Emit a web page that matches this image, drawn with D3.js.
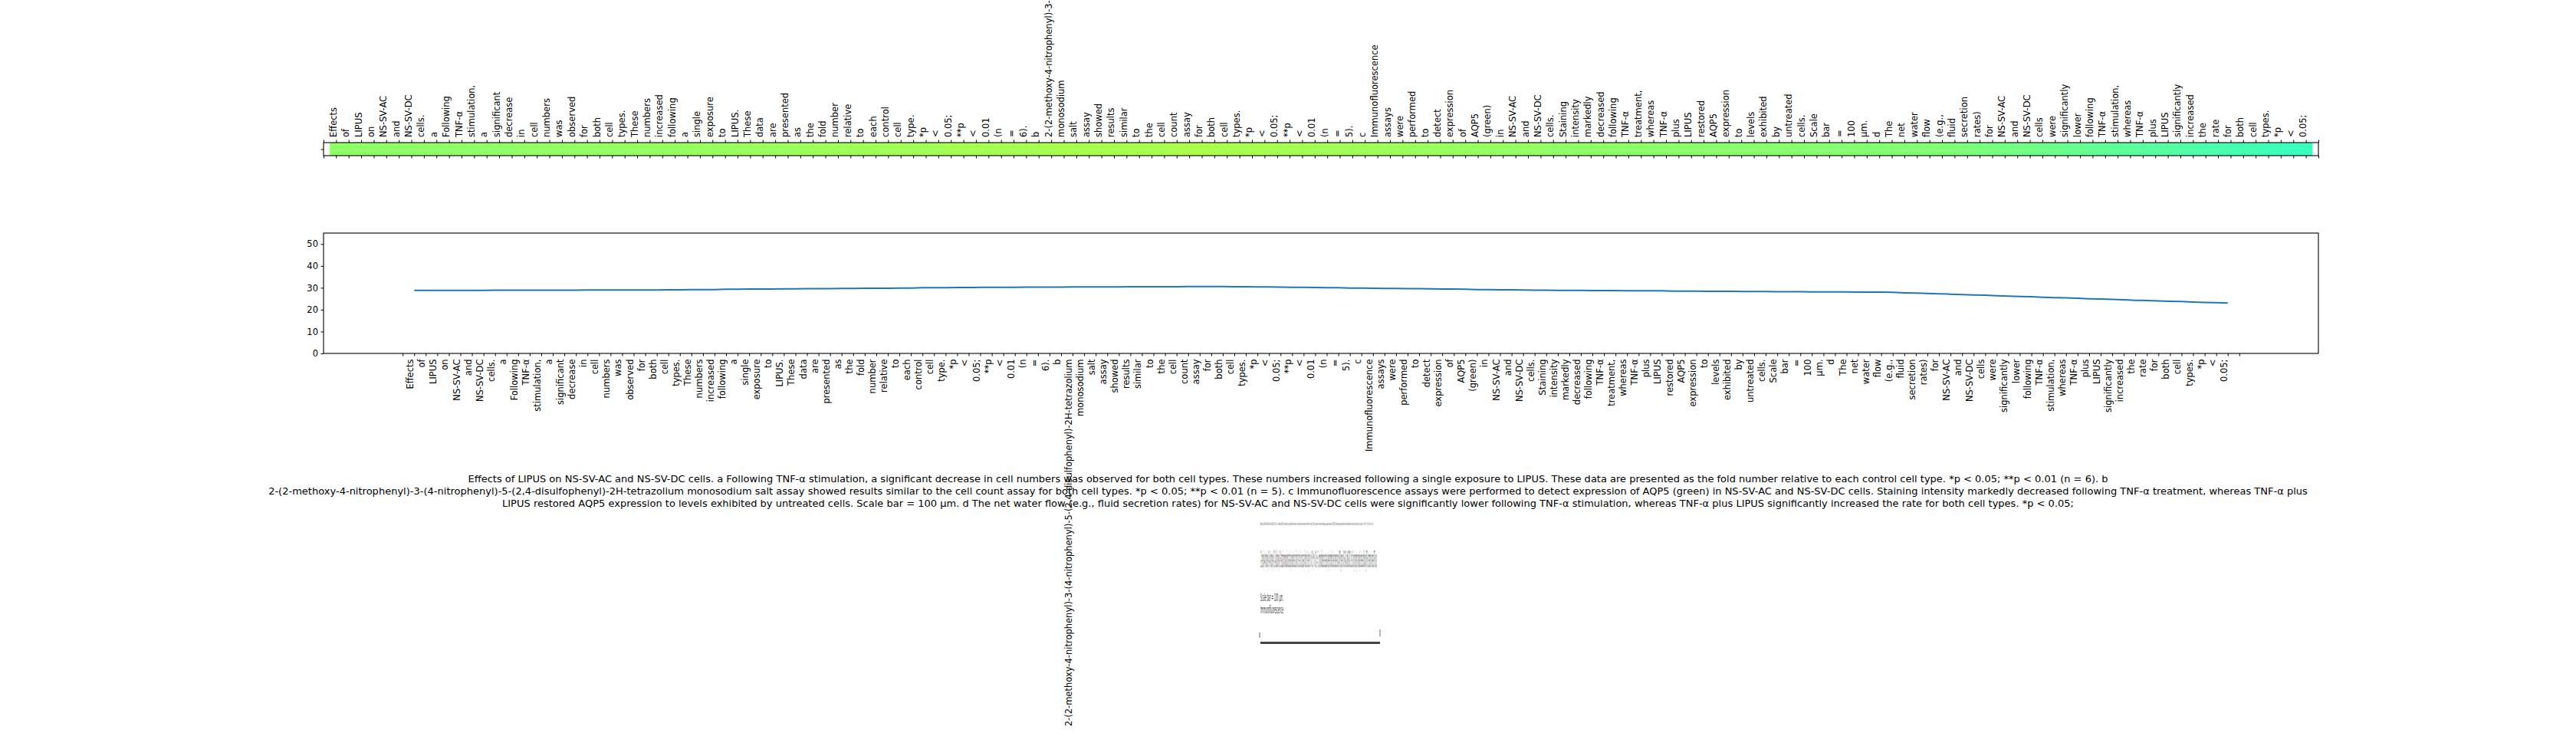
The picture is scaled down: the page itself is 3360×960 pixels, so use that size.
<!DOCTYPE html>
<html><head><meta charset="utf-8">
<script src="https://cdn.jsdelivr.net/npm/d3@7"></script>
<style>body{margin:0;background:#fff} svg{display:block} text{font-family:'DejaVu Sans',sans-serif}</style>
</head><body>
<svg id="c" width="3360" height="960"></svg>
<script>
const words = ["Effects","of","LIPUS","on","NS-SV-AC","and","NS-SV-DC","cells.","a","Following","TNF-α","stimulation,","a","significant","decrease","in","cell","numbers","was","observed","for","both","cell","types.","These","numbers","increased","following","a","single","exposure","to","LIPUS.","These","data","are","presented","as","the","fold","number","relative","to","each","control","cell","type.","*p","<","0.05;","**p","<","0.01","(n","=","6).","b","2-(2-methoxy-4-nitrophenyl)-3-(4-nitrophenyl)-5-(2,4-disulfophenyl)-2H-tetrazolium","monosodium","salt","assay","showed","results","similar","to","the","cell","count","assay","for","both","cell","types.","*p","<","0.05;","**p","<","0.01","(n","=","5).","c","Immunofluorescence","assays","were","performed","to","detect","expression","of","AQP5","(green)","in","NS-SV-AC","and","NS-SV-DC","cells.","Staining","intensity","markedly","decreased","following","TNF-α","treatment,","whereas","TNF-α","plus","LIPUS","restored","AQP5","expression","to","levels","exhibited","by","untreated","cells.","Scale","bar","=","100","μm.","d","The","net","water","flow","(e.g.,","fluid","secretion","rates)","for","NS-SV-AC","and","NS-SV-DC","cells","were","significantly","lower","following","TNF-α","stimulation,","whereas","TNF-α","plus","LIPUS","significantly","increased","the","rate","for","both","cell","types.","*p","<","0.05;"];

const values = [28.8,28.8,28.8,28.8,28.8,28.8,28.8,28.9,28.9,28.9,28.9,28.9,28.9,28.9,28.9,29.0,29.0,29.0,29.0,29.0,29.0,
29.0,29.1,29.1,29.2,29.2,29.2,29.3,29.3,29.4,29.4,29.4,29.5,29.5,29.6,29.6,29.6,29.7,29.7,29.8,29.8,29.8,29.9,29.9,30.0,30.0,30.0,30.1,30.1,30.2,30.2,
30.2,30.2,30.3,30.3,30.3,30.3,30.4,30.4,30.4,30.4,30.4,30.5,30.5,30.5,30.5,30.5,30.6,30.6,30.6,30.6,
30.5,30.5,30.4,30.4,30.3,30.2,30.2,30.1,30.0,30.0,29.9,29.9,29.8,29.7,29.7,29.6,29.6,29.5,29.4,29.4,29.3,29.2,29.2,29.1,29.1,29.0,28.9,
28.9,28.8,28.8,28.8,28.7,28.7,28.7,28.6,28.6,28.6,28.6,28.5,28.5,28.5,28.4,28.4,28.4,28.3,28.3,28.3,28.2,28.2,28.2,28.1,28.1,28.1,28.1,28.0,28.0,28.0,27.9,
27.7,27.6,27.4,27.2,27.1,26.9,26.7,26.6,26.4,26.2,26.0,25.9,25.7,25.5,25.4,25.2,25.0,24.9,24.7,24.5,24.3,24.2,24.0,23.8,23.7,23.5,23.3,23.2,23.0];

const yTicks = [0,10,20,30,40,50];
const yMax = 55;
const colorMax = 55;

const captionLines = [
"Effects of LIPUS on NS-SV-AC and NS-SV-DC cells. a Following TNF-α stimulation, a significant decrease in cell numbers was observed for both cell types. These numbers increased following a single exposure to LIPUS. These data are presented as the fold number relative to each control cell type. *p < 0.05; **p < 0.01 (n = 6). b",
"2-(2-methoxy-4-nitrophenyl)-3-(4-nitrophenyl)-5-(2,4-disulfophenyl)-2H-tetrazolium monosodium salt assay showed results similar to the cell count assay for both cell types. *p < 0.05; **p < 0.01 (n = 5). c Immunofluorescence assays were performed to detect expression of AQP5 (green) in NS-SV-AC and NS-SV-DC cells. Staining intensity markedly decreased following TNF-α treatment, whereas TNF-α plus",
"LIPUS restored AQP5 expression to levels exhibited by untreated cells. Scale bar = 100 μm. d The net water flow (e.g., fluid secretion rates) for NS-SV-AC and NS-SV-DC cells were significantly lower following TNF-α stimulation, whereas TNF-α plus LIPUS significantly increased the rate for both cell types. *p < 0.05;"
];

const W = 3360, H = 960;
const svg = d3.select('#c');
svg.append('rect').attr('width', W).attr('height', H).attr('fill', '#fff');

const left = 422, right = 3024;
const tickIdx = d3.range(-1, words.length + 1);
const lab = i => (i >= 0 && i < words.length) ? words[i] : '';
const FS = 11.5;

function jet(t) {
  t = Math.max(0, Math.min(1, t));
  const r = d3.scaleLinear().domain([0, 0.35, 0.66, 0.89, 1]).range([0, 0, 1, 1, 0.5]).clamp(true)(t);
  const g = d3.scaleLinear().domain([0, 0.125, 0.375, 0.64, 0.91, 1]).range([0, 0, 1, 1, 0, 0]).clamp(true)(t);
  const b = d3.scaleLinear().domain([0, 0.11, 0.34, 0.65, 1]).range([0.5, 1, 1, 0, 0]).clamp(true)(t);
  return d3.rgb(r * 255, g * 255, b * 255).toString();
}

// ---------- top heat strip ----------
const barTop = 186, barBot = 203;
const xb = d3.scaleLinear().domain([-1, words.length]).range([left, right]);
const gb = svg.append('g');
const cw = xb(1) - xb(0);
gb.selectAll('rect.cell').data(values).join('rect').attr('class', 'cell')
  .attr('x', (d, i) => xb(i - 0.5)).attr('width', cw + 0.6)
  .attr('y', barTop).attr('height', barBot - barTop)
  .attr('fill', d => jet(d / colorMax));
gb.append('rect').attr('x', left).attr('y', barTop).attr('width', right - left).attr('height', barBot - barTop)
  .attr('fill', 'none').attr('stroke', '#000').attr('stroke-width', 1.1);

const topAx = gb.append('g').attr('transform', `translate(0,${barTop})`)
  .call(d3.axisTop(xb).tickValues(tickIdx).tickFormat(lab).tickSize(3.5).tickPadding(3));
topAx.select('.domain').remove();
topAx.selectAll('text').attr('transform', 'rotate(-90)').attr('x', 7).attr('y', 0).attr('dy', '0')
  .attr('text-anchor', 'start').attr('font-size', FS).attr('font-family', "'DejaVu Sans',sans-serif").attr('fill', '#000');
const botAx = gb.append('g').attr('transform', `translate(0,${barBot})`)
  .call(d3.axisBottom(xb).tickValues(tickIdx).tickFormat('').tickSize(3.5));
botAx.select('.domain').remove();
const yb = d3.scalePoint().domain(['0']).range([barTop, barBot]).padding(0.5);
const ybAx = gb.append('g').attr('transform', `translate(${left},0)`)
  .call(d3.axisLeft(yb).tickSize(3.5).tickFormat(''));
ybAx.select('.domain').remove();

// ---------- line chart ----------
const lTop = 304, lBot = 461;
const n = values.length;
const pad = (n - 1) * 0.05;
const xl = d3.scaleLinear().domain([-pad, n - 1 + pad]).range([left, right]);
const yl = d3.scaleLinear().domain([0, yMax]).range([lBot, lTop]);
const gl = svg.append('g');

const xAx = gl.append('g').attr('transform', `translate(0,${lBot})`)
  .call(d3.axisBottom(xl).tickValues(tickIdx).tickFormat(lab).tickSize(3.5).tickPadding(3.5));
xAx.select('.domain').remove();
xAx.selectAll('text').attr('transform', 'rotate(-90)').attr('x', -7.5).attr('y', -1.5).attr('dy', '0')
  .attr('text-anchor', 'end').attr('font-size', FS).attr('font-family', "'DejaVu Sans',sans-serif").attr('fill', '#000');

const yAx = gl.append('g').attr('transform', `translate(${left},0)`)
  .call(d3.axisLeft(yl).tickValues(yTicks).tickSize(3.5).tickPadding(3.5));
yAx.select('.domain').remove();
yAx.selectAll('text').attr('font-size', FS).attr('font-family', "'DejaVu Sans',sans-serif").attr('fill', '#000');

gl.append('path').datum(values)
  .attr('d', d3.line().x((d, i) => xl(i)).y(d => yl(d)))
  .attr('fill', 'none').attr('stroke', '#1f77b4').attr('stroke-width', 2);

gl.append('rect').attr('x', left).attr('y', lTop).attr('width', right - left).attr('height', lBot - lTop)
  .attr('fill', 'none').attr('stroke', '#000').attr('stroke-width', 1.1);

// ---------- caption ----------
const capY = [624, 640, 656];
const gc = svg.append('g');
const capTexts = gc.selectAll('text').data(captionLines).join('text')
  .attr('x', W / 2).attr('y', (d, i) => capY[i])
  .attr('text-anchor', 'middle').attr('dominant-baseline', 'central')
  .attr('font-size', 13).attr('fill', '#000').text(d => d);
const l2 = capTexts.nodes()[1].getComputedTextLength();
const capFS = 13 * 2662 / l2;
capTexts.attr('font-size', capFS);

// ---------- tiny squeezed inset ----------
const gi = svg.append('g');
const ix0 = 1644, ix1 = 1800;
function squeezed(txt, y, fs, width, fill) {
  const t = gi.append('text').attr('x', 0).attr('y', 0).attr('font-size', fs).attr('fill', fill).text(txt);
  const len = t.node().getComputedTextLength();
  t.attr('transform', `translate(${ix0},${y}) scale(${width / len},1)`);
}
squeezed(captionLines[0], 685, 5, 148, '#222');
squeezed(captionLines[1], 740, 30, 152, '#333');
squeezed('Scale bar = 100 μm.', 784, 14, 30, '#333');
squeezed('Immunofluorescence', 800, 14, 30, '#333');
gi.append('line').attr('x1', ix0 - 1).attr('x2', ix0 - 1).attr('y1', 825).attr('y2', 832).attr('stroke', '#444').attr('stroke-width', 0.8);
gi.append('line').attr('x1', ix1).attr('x2', ix1).attr('y1', 821).attr('y2', 830).attr('stroke', '#444').attr('stroke-width', 0.8);
gi.append('rect').attr('x', ix0).attr('y', 837).attr('width', ix1 - ix0).attr('height', 3).attr('fill', '#444');
</script>
</body></html>
